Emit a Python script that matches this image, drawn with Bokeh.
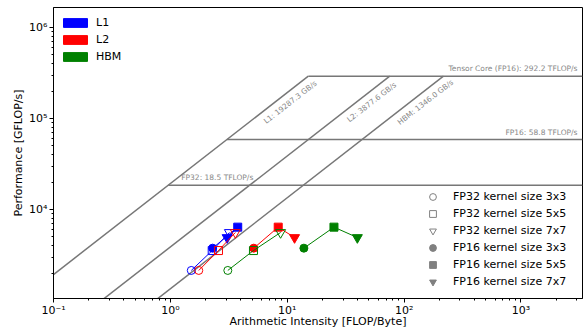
import math
from bokeh.plotting import figure
from bokeh.models import (ColumnDataSource, Label, Legend, LegendItem, FixedTicker,
                          CustomJSTickFormatter, Range1d)
from bokeh.embed import file_html
from bokeh.resources import INLINE

# ---------------- data ----------------
x_min, x_max = 0.1, 3360.0
y_min, y_max = 1052.0, 1.66e6

x_ticks = [0.1, 1, 10, 100, 1000]
y_ticks = [1e4, 1e5, 1e6]

bw_names = ["L1", "L2", "HBM"]
bw_values = [19287.3, 3877.6, 1346.0]          # GB/s
peak_names = ["Tensor Core (FP16)", "FP16", "FP32"]
peak_values = [292.2, 58.8, 18.5]              # TFLOP/s

kernel_sizes = ["3x3", "5x5", "7x7"]
perf_fp32 = [2140, 3540, 5590]                 # GFLOP/s
perf_fp16 = [3760, 6400, 4920]

l1_ai_fp32 = [1.51, 2.28, 3.20]
l1_ai_fp16 = [2.30, 3.77, 3.06]
l2_ai_fp32 = [1.75, 2.58, 3.60]
l2_ai_fp16 = [5.17, 8.37, 11.55]
hbm_ai_fp32 = [3.10, 5.14, 8.77]
hbm_ai_fp16 = [13.88, 25.1, 39.8]

level_colors = ["blue", "red", "green"]

# ---------------- figure ----------------
FW, FH = 529, 291
p = figure(x_axis_type="log", y_axis_type="log",
           x_range=Range1d(x_min, x_max), y_range=Range1d(y_min, y_max),
           frame_width=FW, frame_height=FH,
           output_backend="svg", toolbar_location=None,
           min_border_top=7, min_border_right=2, min_border_left=53, min_border_bottom=0)
p.grid.visible = False
p.outline_line_color = "black"
p.outline_line_alpha = 1.0
p.outline_line_width = 1
p.background_fill_color = "white"
p.border_fill_color = "white"

sup_fmt = CustomJSTickFormatter(code="""
const s = {"-":"\u207b","0":"\u2070","1":"\u00b9","2":"\u00b2","3":"\u00b3","4":"\u2074",
           "5":"\u2075","6":"\u2076","7":"\u2077","8":"\u2078","9":"\u2079"};
const e = Math.round(Math.log10(tick));
return "10" + String(e).split("").map(c => s[c]).join("");
""")

p.xaxis.ticker = FixedTicker(ticks=x_ticks,
                             minor_ticks=[m * 10.0 ** k for k in range(-1, 4) for m in range(2, 10)])
p.yaxis.ticker = FixedTicker(ticks=y_ticks,
                             minor_ticks=[m * 10.0 ** k for k in range(3, 7) for m in range(2, 10)])
p.xaxis.axis_label = "Arithmetic Intensity [FLOP/Byte]"
p.yaxis.axis_label = "Performance [GFLOP/s]"
for ax in (p.xaxis[0], p.yaxis[0]):
    ax.formatter = sup_fmt
    ax.major_label_text_font = "DejaVu Sans"
    ax.major_label_text_font_size = "11px"
    ax.major_label_text_color = "black"
    ax.axis_label_text_font = "DejaVu Sans"
    ax.axis_label_text_font_size = "11px"
    ax.axis_label_text_font_style = "normal"
    ax.axis_label_text_color = "black"
    ax.axis_line_color = "black"
    ax.major_tick_line_color = "black"
    ax.minor_tick_line_color = "black"
    ax.major_tick_in = 0
    ax.major_tick_out = 4
    ax.minor_tick_in = 0
    ax.minor_tick_out = 2
p.xaxis.major_label_standoff = 1
p.yaxis.major_label_standoff = 2
p.xaxis.axis_label_standoff = -5
p.yaxis.axis_label_standoff = 1

# ---------------- rooflines ----------------
roof_color = "#777777"
max_peak = max(peak_values) * 1000.0
angle = math.atan((FH / math.log10(y_max / y_min)) / (FW / math.log10(x_max / x_min)))
for name, bw in zip(bw_names, bw_values):
    ridge = max_peak / bw
    p.line([x_min, ridge], [bw * x_min, max_peak], line_color=roof_color, line_width=1.5)
    xl = ridge * 0.70
    p.add_layout(Label(x=xl, y=bw * xl, text=f"{name}: {bw:.1f} GB/s", angle=angle,
                       text_align="center", text_baseline="middle", y_offset=-12,
                       text_font="DejaVu Sans", text_font_size="7.5px", text_color="#888888"))

l1_bw = bw_values[0]
for name, pk in zip(peak_names, peak_values):
    g = pk * 1000.0
    p.line([g / l1_bw, x_max], [g, g], line_color=roof_color, line_width=1.5)
    txt = f"{name}: {pk:.1f} TFLOP/s"
    if name == "FP32":
        lab = Label(x=g / l1_bw, y=g, text=txt, x_offset=13, y_offset=3,
                    text_align="left", text_baseline="bottom")
    else:
        lab = Label(x=x_max, y=g, text=txt, x_offset=-5, y_offset=3,
                    text_align="right", text_baseline="bottom")
    lab.text_font = "DejaVu Sans"
    lab.text_font_size = "7.5px"
    lab.text_color = "#888888"
    p.add_layout(lab)

# ---------------- measurements ----------------
markers = ["circle", "square", "inverted_triangle"]
msize = {"circle": 8, "square": 8, "inverted_triangle": 10}
series = [(l1_ai_fp32, l1_ai_fp16), (l2_ai_fp32, l2_ai_fp16), (hbm_ai_fp32, hbm_ai_fp16)]
for color, (a32, a16) in zip(level_colors, series):
    for ai, perf, filled in ((a32, perf_fp32, False), (a16, perf_fp16, True)):
        p.line(ai, perf, line_color=color, line_width=1)
        src = ColumnDataSource(dict(x=ai, y=perf, marker=markers,
                                    size=[msize[m] for m in markers]))
        p.scatter("x", "y", source=src, marker="marker", size="size",
                  line_color=color, line_width=1,
                  fill_color=color if filled else None)

# ---------------- legends ----------------
nan = float("nan")
items1 = []
for name, color in zip(bw_names, level_colors):
    r = p.quad(left=[nan], right=[nan], top=[nan], bottom=[nan],
               fill_color=color, line_color=color)
    items1.append(LegendItem(label=name, renderers=[r], index=0))
leg1 = Legend(items=items1, location="top_left", margin=7, padding=0,
              glyph_width=30, glyph_height=11, label_height=17, spacing=0,
              label_standoff=6, border_line_alpha=0, background_fill_alpha=0,
              label_text_font="DejaVu Sans", label_text_font_size="11px",
              label_text_color="black")
p.add_layout(leg1)

items2 = []
for prec, filled in (("FP32", False), ("FP16", True)):
    for m, ks in zip(markers, kernel_sizes):
        r = p.scatter(x=[nan], y=[nan], marker=m, line_color="#808080",
                      fill_color="#808080" if filled else None)
        items2.append(LegendItem(label=f"{prec} kernel size {ks}", renderers=[r], index=0))
leg2 = Legend(items=items2, location=(371, 8), margin=0, padding=0,
              glyph_width=17, glyph_height=17, label_height=17, spacing=0,
              label_standoff=12, border_line_alpha=0, background_fill_alpha=0,
              label_text_font="DejaVu Sans", label_text_font_size="11px",
              label_text_color="black")
p.add_layout(leg2)

open("out.html", "w").write(file_html(p, INLINE))
